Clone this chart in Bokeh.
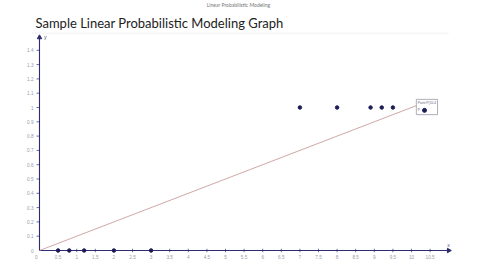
from bokeh.plotting import figure
from bokeh.models import Range1d, Label
from bokeh.embed import file_html
from bokeh.resources import INLINE

# ---- data ----
title_text = "Sample Linear Probabilistic Modeling Graph"
header_text = "Linear Probabilistic Modeling"
zero_x = [0.5, 0.8, 1.2, 2.0, 3.0]
zero_y = [0, 0, 0, 0, 0]
one_x = [7.0, 8.0, 8.9, 9.2, 9.5]
one_y = [1, 1, 1, 1, 1]
marked_x = [10.35]
marked_y = [0.98]
line_x = [0, 10.15]
line_y = [0, 1.015]
x_ticks = [i * 0.5 for i in range(1, 22)]
x_tick_labels = [("%g" % t) for t in x_ticks]
y_ticks = [round(i * 0.1, 1) for i in range(1, 15)]
y_tick_labels = [("%g" % t) for t in y_ticks]

AX = "#2b2b6e"
PT = "#1b1b55"

p = figure(width=480, height=270, output_backend="svg", toolbar_location=None,
           x_range=Range1d(-39 / 37.2, 441 / 37.2), y_range=Range1d(-20 / 143, 250 / 143),
           min_border=0, outline_line_color=None, background_fill_color="white")
p.axis.visible = False
p.grid.visible = False

# faint frame band at top
p.segment(x0=[-0.2], y0=[1.52], x1=[11.0], y1=[1.52], line_color="#f7f7f7", line_width=2)

# axes
p.segment(x0=[0], y0=[0], x1=[11.0], y1=[0], line_color=AX, line_width=1.1)
p.segment(x0=[0], y0=[0], x1=[0], y1=[1.49], line_color=AX, line_width=1.1)
p.scatter(x=[11.0], y=[0], marker="triangle", angle=-1.5708, size=4.5, color=AX)
p.scatter(x=[0], y=[1.49], marker="triangle", size=4.5, color=AX)
p.text(x=[11.0], y=[0.02], text=["x"], text_font_size="4pt", text_color="#555577",
       text_align="center", text_baseline="bottom")
p.text(x=[0.12], y=[1.49], text=["y"], text_font_size="4pt", text_color="#555577",
       text_align="left", text_baseline="middle")

# ticks
p.segment(x0=x_ticks, y0=[-0.012] * len(x_ticks), x1=x_ticks, y1=[0.012] * len(x_ticks),
          line_color=AX, line_width=0.7)
p.segment(x0=[-0.08] * len(y_ticks), y0=y_ticks, x1=[0] * len(y_ticks), y1=y_ticks,
          line_color=AX, line_width=0.7)
p.text(x=x_ticks, y=[-0.03] * len(x_ticks), text=x_tick_labels, text_font_size="3.5pt",
       text_color="#9a9aa8", text_align="center", text_baseline="top")
p.text(x=[-0.16] * len(y_ticks), y=y_ticks, text=y_tick_labels, text_font_size="3.5pt",
       text_color="#9a9aa8", text_align="right", text_baseline="middle")
p.text(x=[-0.05], y=[-0.03], text=["0"], text_font_size="3.5pt", text_color="#9a9aa8",
       text_align="right", text_baseline="top")
p.text(x=[-0.16], y=[0.0], text=["0"], text_font_size="3.5pt", text_color="#9a9aa8",
       text_align="right", text_baseline="middle")

# line
p.line(x=line_x, y=line_y, line_color="#c49090", line_width=0.8)

# label box
p.quad(left=[10.13], right=[10.7], bottom=[0.95], top=[1.057], fill_color="white",
       line_color="#9a9aa8", line_width=0.8)
p.text(x=[10.17], y=[1.03], text=["Point P(10.4"], text_font_size="2.5pt",
       text_color="#666677", text_align="left", text_baseline="middle")
p.text(x=[10.17], y=[0.98], text=["P"], text_font_size="2.5pt",
       text_color="#666677", text_align="left", text_baseline="middle")

# points
p.scatter(x=zero_x, y=zero_y, size=3.5, color=PT)
p.scatter(x=one_x, y=one_y, size=3.5, color=PT)
p.scatter(x=marked_x, y=marked_y, size=4, color=PT)

# titles
p.add_layout(Label(x=35, y=240, x_units="screen", y_units="screen", text=title_text,
                   text_font="Lato", text_font_size="13px", text_color="#222222"))
p.add_layout(Label(x=238, y=263, x_units="screen", y_units="screen", text=header_text,
                   text_font="Lato", text_font_size="5px", text_color="#777777",
                   text_align="center"))

open("out.html", "w").write(file_html(p, INLINE))
